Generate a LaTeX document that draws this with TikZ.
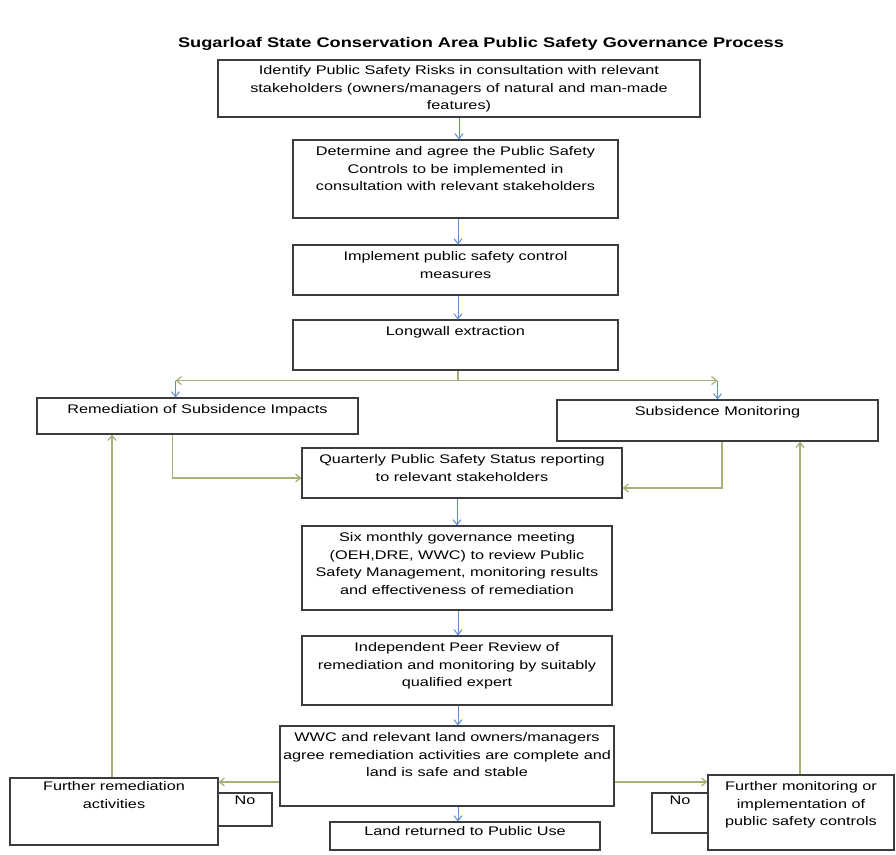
\documentclass[tikz,border=0pt]{standalone}
\usepackage{fontspec}
\setmainfont{Liberation Sans}[FakeStretch=1.3]
\usetikzlibrary{arrows.meta}
\usetikzlibrary{shadows}
\definecolor{flowblue}{RGB}{95,140,205}
\definecolor{sideolive}{RGB}{170,175,120}
\definecolor{boxgray}{RGB}{60,60,60}

\begin{document}
\begin{tikzpicture}[x=1pt,y=-1pt,
  box/.style={draw=boxgray,line width=1.1pt,fill=white,inner sep=0pt,
    drop shadow={shadow xshift=1.2pt,shadow yshift=-1.2pt,fill=black!30,opacity=.6}},
  lbl/.style={anchor=north,align=center,inner xsep=4pt,inner ysep=7pt,font=\fontsize{12.5}{17.5}\selectfont},
  down/.style={draw=flowblue,line width=1pt,-{Straight Barb[length=5pt,width=8pt]}},
  side/.style={draw=sideolive,line width=1.2pt,-{Straight Barb[length=5pt,width=8pt]}},
  sideline/.style={draw=sideolive,line width=1.2pt}]
\useasboundingbox (0,0) rectangle (896,854);
\node[font=\bfseries\fontsize{14}{16}\selectfont] (title) at (481,44) {Sugarloaf State Conservation Area Public Safety Governance Process};

% main column
\node[box,minimum width=482pt,minimum height=57pt,label={[lbl,name=risksT,inner ysep=6pt]north:{Identify Public Safety Risks in consultation with relevant\\stakeholders (owners/managers of natural and man-made\\features)}}] (risks) at (459,88.5) {};
\node[box,minimum width=325pt,minimum height=78pt,label={[lbl,name=controlsT]north:{Determine and agree the Public Safety\\Controls to be implemented in\\consultation with relevant stakeholders}}] (controls) at (455.5,179) {};
\node[box,minimum width=325pt,minimum height=50pt,label={[lbl,name=implementT]north:{Implement public safety control\\measures}}] (implement) at (455.5,270) {};
\node[box,minimum width=325pt,minimum height=50pt,label={[lbl,name=longwallT]north:{Longwall extraction}}] (longwall) at (455.5,345) {};
\node[box,minimum width=321pt,minimum height=36pt,label={[lbl,name=remedT]north:{Remediation of Subsidence Impacts}}] (remed) at (197.5,416) {};
\node[box,minimum width=321pt,minimum height=41pt,label={[lbl,name=monitorT]north:{Subsidence Monitoring}}] (monitor) at (717.5,420.5) {};
\node[box,minimum width=320pt,minimum height=50pt,label={[lbl,name=quarterlyT]north:{Quarterly Public Safety Status reporting\\to relevant stakeholders}}] (quarterly) at (462,473) {};
\node[box,minimum width=310pt,minimum height=84pt,label={[lbl,name=sixmonthT]north:{Six monthly governance meeting\\(OEH,DRE, WWC) to review Public\\Safety Management, monitoring results\\and effectiveness of remediation}}] (sixmonth) at (457,568) {};
\node[box,minimum width=310pt,minimum height=69pt,label={[lbl,name=peerT]north:{Independent Peer Review of\\remediation and monitoring by suitably\\qualified expert}}] (peer) at (457,670.5) {};
\node[box,minimum width=334pt,minimum height=80pt,label={[lbl,name=wwcT]north:{WWC and relevant land owners/managers\\agree remediation activities are complete and\\land is safe and stable}}] (wwc) at (447,766) {};
\node[box,minimum width=270pt,minimum height=28pt,label={[lbl,name=landT,inner ysep=5pt]north:{Land returned to Public Use}}] (land) at (465,836) {};

% the two "No" branches
\node[box,minimum width=54pt,minimum height=33pt,label={[lbl,name=noLT,inner ysep=3pt]north:{No}}] (noL) at (245,809.5) {};
\node[box,minimum width=208pt,minimum height=67pt,label={[lbl,name=furtherRemT,inner ysep=4pt]north:{Further remediation\\activities}}] (furtherRem) at (114,811.5) {};
\node[box,minimum width=56pt,minimum height=40pt,label={[lbl,name=noRT,inner ysep=3pt]north:{No}}] (noR) at (680,813) {};
\node[box,minimum width=186pt,minimum height=75pt,label={[lbl,name=furtherMonT,inner xsep=1pt]north:{Further monitoring or\\implementation of\\public safety controls}}] (furtherMon) at (801,812.5) {};

% blue flow
\draw[down] (risks.south) -- (risks.south |- controls.north);
\draw[down] ([xshift=2.5pt]controls.south) -- ([xshift=2.5pt]implement.north);
\draw[down] ([xshift=2.5pt]implement.south) -- ([xshift=2.5pt]longwall.north);
\draw[down] (sixmonth.north |- quarterly.south) -- (sixmonth.north);
\draw[down] ([xshift=1pt]sixmonth.south) -- ([xshift=1pt]peer.north);
\draw[down] ([xshift=1pt]peer.south) -- ([xshift=1pt]peer.south |- wwc.north);
\draw[down] ([xshift=11pt]wwc.south) -- ([xshift=11pt]wwc.south |- land.north);

% fork below longwall
\coordinate (fork) at ([xshift=2.5pt,yshift=-10pt]longwall.south);
\coordinate (remedTop) at ([xshift=-22pt]remed.north);
\draw[sideline] ([xshift=2.5pt]longwall.south) -- (fork);
\draw[side] (fork) -- (fork -| remedTop);
\draw[side] (fork) -- (fork -| monitor.north);
\draw[down] (fork -| remedTop) -- (remedTop);
\draw[down] (fork -| monitor.north) -- (monitor.north);

% into the quarterly report
\draw[side] ([xshift=-25pt]remed.south) |- ([yshift=-5pt]quarterly.west);
\draw[side] ([xshift=4.5pt]monitor.south) |- ([yshift=-15pt]quarterly.east);

% No branches and loops back
\draw[side] ([yshift=-16pt]wwc.west) -- ([yshift=-16pt]wwc.west -| furtherRem.east);
\draw[side] ([yshift=-16pt]wwc.east) -- ([yshift=-16pt]wwc.east -| furtherMon.west);
\draw[side] ([xshift=-2pt]furtherRem.north) -- ([xshift=-2pt]furtherRem.north |- remed.south);
\draw[side] ([xshift=-1pt]furtherMon.north) -- ([xshift=-1pt]furtherMon.north |- monitor.south);
\end{tikzpicture}
\end{document}
